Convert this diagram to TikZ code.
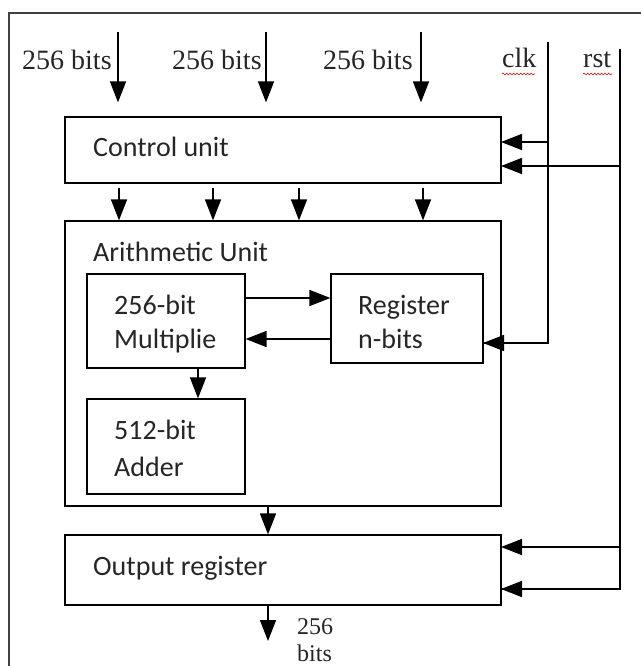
\documentclass[tikz,border=0pt]{standalone}
\usepackage{fontspec}
\setmainfont{Liberation Serif}
\newfontfamily\boxfont{Carlito}
\usetikzlibrary{arrows.meta,decorations.pathmorphing}
\begin{document}
\begin{tikzpicture}[x=1pt,y=-1pt,
  box/.style={draw, line width=1.2pt, rectangle, inner sep=0pt},
  arr/.style={line width=1.5pt, -{Triangle[length=21pt,width=16pt]}},
  wire/.style={line width=1.5pt},
  lbl/.style={font=\fontsize{28}{28}\selectfont, inner sep=0pt, anchor=base west, text=black!85},
  blbl/.style={font=\fontsize{24}{24}\selectfont, inner sep=0pt, anchor=base west, text=black!85},
  btxt/.style={font=\boxfont\fontsize{28}{28}\selectfont, inner sep=0pt, anchor=base west, text=black!85},
  squig/.style={red!80!black, line width=0.6pt, decorate, decoration={snake, amplitude=0.9pt, segment length=3.5pt}}]
\useasboundingbox (0,0) rectangle (641,666);
\clip (0,0) rectangle (641,666);
\fill[white] (0,0) rectangle (641,666);

% outer frame
\draw[line width=1.2pt, black!75] (641,13) -- (9,13) -- (9,666);

% boxes
\node[box, minimum width=436pt, minimum height=66pt] (ctrl) at (283,150) {};
\node[box, minimum width=436pt, minimum height=285pt] (arith) at (283,363.5) {};
\node[box, minimum width=158pt, minimum height=94pt] (mult) at (166,321) {};
\node[box, minimum width=152pt, minimum height=89pt] (reg) at (407,318.5) {};
\node[box, minimum width=158pt, minimum height=95pt] (adder) at (166,446.5) {};
\node[box, minimum width=436pt, minimum height=70pt] (outreg) at (283,570) {};

% box texts
\node[btxt] (tctrl) at (93,157) {Control unit};
\node[btxt] (tarith) at (93,261) {Arithmetic Unit};
\node[btxt] (tmult1) at (114,314) {256-bit};
\node[btxt] (tmult2) at (114,348) {Multiplie};
\node[btxt] (treg1) at (358,314) {Register};
\node[btxt] (treg2) at (358,348) {n-bits};
\node[btxt] (tadd1) at (114,439) {512-bit};
\node[btxt] (tadd2) at (114,476) {Adder};
\node[btxt] (tout) at (93,575) {Output register};

% input labels
\node[lbl] (l1) at (22,70) {256 bits};
\node[lbl] (l2) at (172,70) {256 bits};
\node[lbl] (l3) at (323,70) {256 bits};
\node[lbl] (lclk) at (502,68) {clk};
\node[lbl] (lrst) at (583,68) {rst};
\draw[squig] (502,74) -- (535,74);
\draw[squig] (583,74) -- (612,74);

% input arrows
\coordinate (i1) at (118,32);
\coordinate (i2) at (266,32);
\coordinate (i3) at (421,32);
\draw[arr, shorten >=14pt] (i1) -- (i1 |- ctrl.north);
\draw[arr, shorten >=14pt] (i2) -- (i2 |- ctrl.north);
\draw[arr, shorten >=14pt] (i3) -- (i3 |- ctrl.north);

% control -> arithmetic
\foreach \xx/\nm in {119/c1, 213/c2, 299/c3, 423/c4} {
  \coordinate (\nm) at (\xx,188);
  \draw[arr] (\nm) -- (\nm |- arith.north);
}

% clk
\coordinate (clktop) at (548,42);
\coordinate (clkC) at (501,142);
\coordinate (clkR) at (483,343);
\draw[wire] (clktop) |- (clkR);
\draw[arr] (clktop |- clkC) -- (clkC);
\draw[arr] (clktop |- clkR) -- (clkR);

% rst
\coordinate (rsttop) at (620,49);
\coordinate (rstC) at (501,166);
\coordinate (rstO1) at (501,547);
\coordinate (rstO2) at (501,589);
\draw[wire] (rsttop) |- (rstO2);
\draw[arr] (rsttop |- rstC) -- (rstC);
\draw[arr] (rsttop |- rstO1) -- (rstO1);
\draw[arr] (rsttop |- rstO2) -- (rstO2);

% internal
\coordinate (mr) at (245,298);
\coordinate (rm) at (331,339);
\draw[arr] (mr) -- (mr -| reg.west);
\draw[arr] (rm) -- (rm -| mult.east);
\coordinate (ma) at (198,368);
\draw[arr] (ma) -- (ma |- adder.north);
\coordinate (ao) at (268,506);
\draw[arr] (ao) -- (ao |- outreg.north);

% output
\coordinate (oo) at (268,605);
\coordinate (out) at (268,641);
\draw[arr] (oo) -- (out);
\node[blbl] (o1) at (297,634) {256};
\node[blbl] (o2) at (297,661) {bits};
\end{tikzpicture}
\end{document}
